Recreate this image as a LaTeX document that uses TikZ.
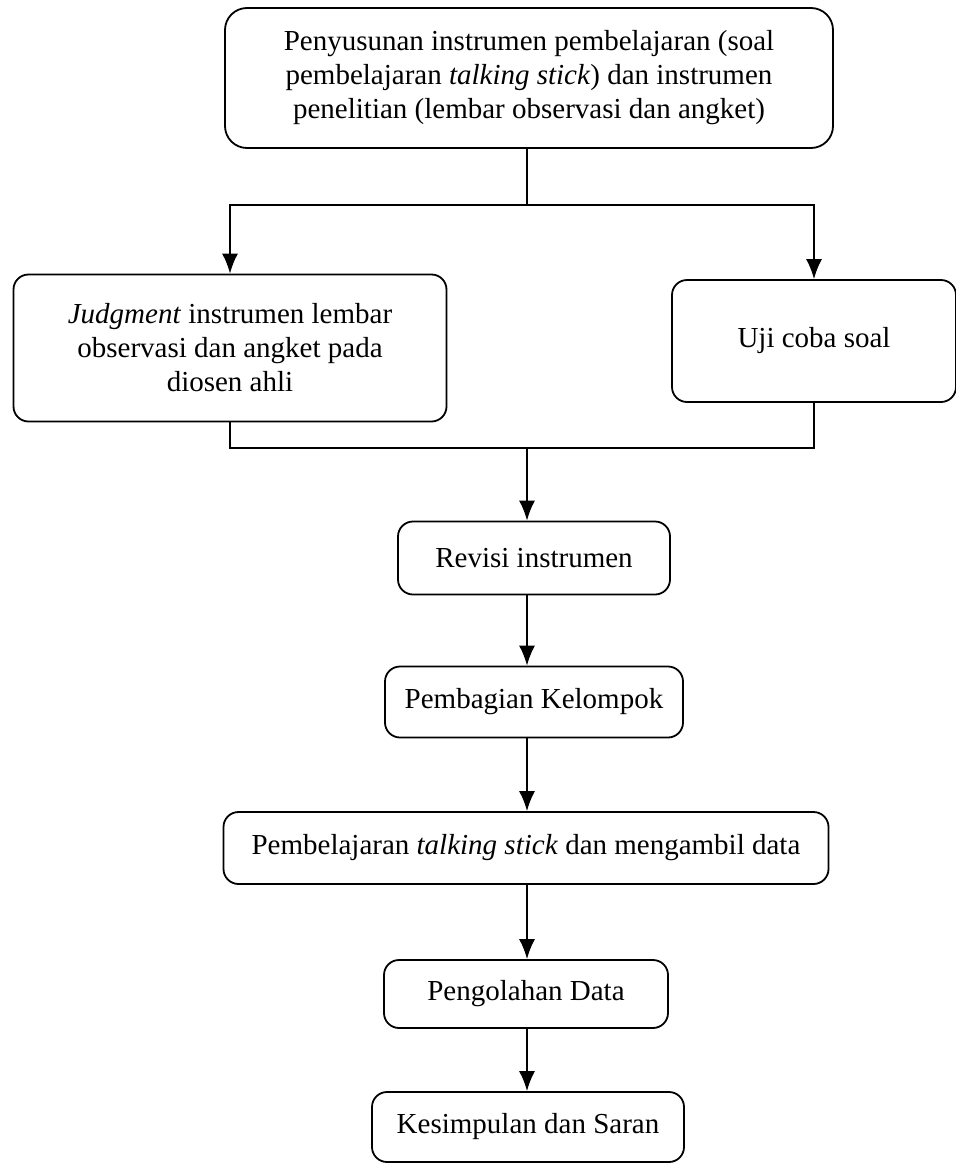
\documentclass[tikz,border=0pt]{standalone}
\usepackage{fontspec}
\setmainfont{Liberation Serif}
\usetikzlibrary{arrows.meta,positioning,calc}

\tikzset{
	blok/.style={draw,line width=1.8pt,rounded corners=15pt,align=center,inner sep=0pt,font=\fontsize{29}{34}\selectfont},
	garis/.style={line width=1.8pt},
	panah/.style={line width=1.8pt,-{Latex[length=20pt,width=16pt]}}
}

\begin{document}
\begin{tikzpicture}[x=1pt,y=-1pt]
		\useasboundingbox (0,0) rectangle (956,1165);
		\node[blok,rounded corners=22pt,minimum width=608pt,minimum height=140pt] (susun) at (529,78)
			{Penyusunan instrumen pembelajaran (soal\\pembelajaran \textit{talking stick}) dan instrumen\\penelitian (lembar observasi dan angket)};
		\node[blok,minimum width=433pt,minimum height=147pt] (judgment) at (230,348)
			{\textit{Judgment} instrumen lembar\\observasi dan angket pada\\diosen ahli};
		\node[blok,minimum width=284pt,minimum height=122pt] (ujicoba) at (814,341) {Uji coba soal};
		\node[blok,minimum width=272pt,minimum height=73pt] (revisi) at (534,558) {Revisi instrumen};
		\node[blok,minimum width=298pt,minimum height=71pt] (kelompok) at (534,702) {Pembagian Kelompok};
		\node[blok,minimum width=605pt,minimum height=72pt] (ajar) at (526,848)
			{Pembelajaran \textit{talking stick} dan mengambil data};
		\node[blok,minimum width=284pt,minimum height=68pt] (olah) at (526,994) {Pengolahan Data};
		\node[blok,minimum width=312pt,minimum height=70pt] (simpul) at (528,1127) {Kesimpulan dan Saran};

		\coordinate (bagi) at (527,205);
		\coordinate (gabung) at (527,448);

		\draw[garis] (susun.south -| bagi) -- (bagi);
		\draw[panah] (bagi) -| (judgment.north);
		\draw[panah] (bagi) -| (ujicoba.north);
		\draw[garis] (judgment.south) |- (gabung) -| (ujicoba.south);
		\draw[panah] (gabung) -- (revisi.north -| gabung);
		\draw[panah] (revisi.south -| gabung) -- (kelompok.north -| gabung);
		\draw[panah] (kelompok.south -| gabung) -- (ajar.north -| gabung);
		\draw[panah] (ajar.south -| gabung) -- (olah.north -| gabung);
		\draw[panah] (olah.south -| gabung) -- (simpul.north -| gabung);
\end{tikzpicture}
\end{document}
